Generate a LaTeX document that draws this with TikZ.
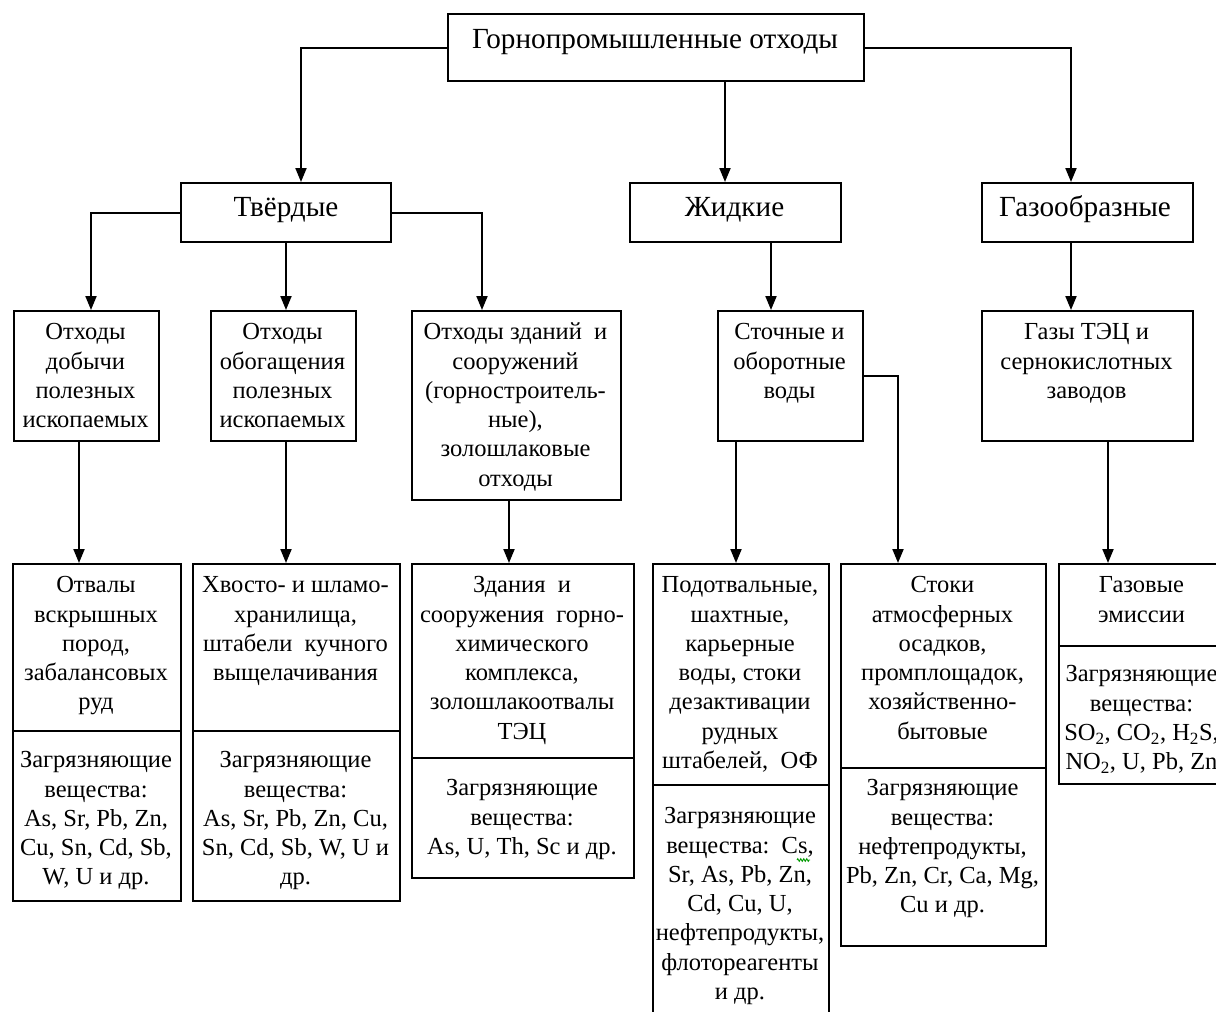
\documentclass[tikz,border=0pt]{standalone}
\usepackage{fontspec}
\setmainfont{Liberation Serif}
\usetikzlibrary{arrows.meta,decorations.pathmorphing}
\newcommand\bodyfont{\fontsize{24.5}{29.3}\selectfont}
\newcommand\headfont{\fontsize{29.2}{34}\selectfont}
% box with its top-left corner and bottom-right corner (pixel-like units, y downwards)
\newcommand\bx[5]{\node[cell, minimum width={(#4)-(#2)}, minimum height={(#5)-(#3)}] (#1) at (#2,#3) {};}
% centred text block: name, centre x, centre of the first line, text
\newcommand\tx[4]{\node[txt] (#1) at (#2,#3-15) {\strut#4};}
% one-line heading: name, centre x, centre y, text
\newcommand\hd[4]{\node[headtxt] (#1) at (#2,#3+6.5) {#4};}
\begin{document}
\begin{tikzpicture}[x=1pt,y=-1pt,
  cell/.style={draw, line width=2pt, inner sep=0pt, anchor=north west},
  txt/.style={align=center, inner sep=0pt, anchor=north, font=\bodyfont},
  headtxt/.style={inner sep=0pt, anchor=base, font=\headfont},
  arr/.style={line width=2pt, -{Triangle[length=14pt,width=11pt]}},
  squiggle/.style={draw=green!60!black, line width=0.9pt,
    decorate, decoration={zigzag, amplitude=1.3pt, segment length=3pt}}]
\useasboundingbox (0,0) rectangle (1216,1012);
\fill[white] (0,0) rectangle (1216,1012);
\clip (0,0) rectangle (1216,1012);

% ---- level 1 and 2
\bx{top}{447}{13}{863}{80}
\hd{topT}{655}{42}{Горнопромышленные отходы}
\bx{tv}{180}{182}{390}{241}
\hd{tvT}{286}{210}{Твёрдые}
\bx{zh}{629}{182}{840}{241}
\hd{zhT}{734.5}{210}{Жидкие}
\bx{gz}{981}{182}{1192}{241}
\hd{gzT}{1085}{210}{Газообразные}

% ---- level 3
\bx{a1}{13}{310}{158}{440}
\tx{a1T}{85.5}{334}{Отходы\\добычи\\полезных\\ископаемых}
\bx{a2}{210}{310}{355}{440}
\tx{a2T}{282.5}{334}{Отходы\\обогащения\\полезных\\ископаемых}
\bx{a3}{411}{310}{620}{499}
\tx{a3T}{515.5}{334}{Отходы зданий\ \ и\\сооружений\\(горностроитель-\\ные),\\золошлаковые\\отходы}
\bx{b1}{717}{310}{862}{440}
\tx{b1T}{789.5}{334}{Сточные и\\оборотные\\воды}
\bx{c1}{981}{310}{1192}{440}
\tx{c1T}{1086.5}{334}{Газы ТЭЦ и\\сернокислотных\\заводов}

% ---- level 4: sources (upper part) and pollutants (lower part)
\bx{d1}{12}{563}{180}{730}
\bx{d1p}{12}{730}{180}{900}
\tx{d1T}{96}{587}{Отвалы\\вскрышных\\пород,\\забалансовых\\руд}
\tx{d1P}{96}{762}{Загрязняющие\\вещества:\\As, Sr, Pb, Zn,\\Cu, Sn, Cd, Sb,\\W, U и др.}

\bx{d2}{192}{563}{399}{730}
\bx{d2p}{192}{730}{399}{900}
\tx{d2T}{295.5}{587}{Хвосто- и шламо-\\хранилища,\\штабели\ \ кучного\\выщелачивания}
\tx{d2P}{295.5}{762}{Загрязняющие\\вещества:\\As, Sr, Pb, Zn, Cu,\\Sn, Cd, Sb, W, U и\\др.}

\bx{d3}{411}{563}{633}{757}
\bx{d3p}{411}{757}{633}{877}
\tx{d3T}{522}{587}{Здания\ \ и\\сооружения\ \ горно-\\химического\\комплекса,\\золошлакоотвалы\\ТЭЦ}
\tx{d3P}{522}{790}{Загрязняющие\\вещества:\\As, U, Th, Sc и др.}

\bx{e1}{652}{563}{828}{784}
\bx{e1p}{652}{784}{828}{1030}
\tx{e1T}{740}{587}{Подотвальные,\\шахтные,\\карьерные\\воды, стоки\\дезактивации\\рудных\\штабелей,\ \ ОФ}
\tx{e1P}{740}{818}{Загрязняющие\\вещества:\ \ Cs,\\Sr, As, Pb, Zn,\\Cd, Cu, U,\\нефтепродукты,\\флотореагенты\\и др.}
% spell-check mark under "s" of Cs
\draw[squiggle] (797,860) -- (810,860);

\bx{e2}{840}{563}{1045}{767}
\bx{e2p}{840}{767}{1045}{945}
\tx{e2T}{942.5}{587}{Стоки\\атмосферных\\осадков,\\промплощадок,\\хозяйственно-\\бытовые}
\tx{e2P}{942.5}{790}{Загрязняющие\\вещества:\\нефтепродукты,\\Pb, Zn, Cr, Ca, Mg,\\Cu и др.}

\bx{f1}{1058}{563}{1225}{645}
\bx{f1p}{1058}{645}{1225}{783}
\tx{f1T}{1141.5}{587}{Газовые\\эмиссии}
\tx{f1P}{1141.5}{676}{Загрязняющие\\вещества:\\SO\textsubscript{2}, CO\textsubscript{2}, H\textsubscript{2}S,\\NO\textsubscript{2}, U, Pb, Zn}

% ---- connectors
\draw[arr] (top.west) -| ([xshift=15pt]tv.north);
\draw[arr] ([xshift=-10.5pt]zh.north |- top.south) -- ([xshift=-10.5pt]zh.north);
\draw[arr] (top.east) -| ([xshift=-16.5pt]gz.north);

\draw[arr] (tv.west) -| ([xshift=4.5pt]a1.north);
\draw[arr] (tv.south) -- ([xshift=2.5pt]a2.north);
\draw[arr] (tv.east) -| ([xshift=-34.5pt]a3.north);

\draw[arr] ([xshift=35.5pt]zh.south) -- ([xshift=-19.5pt]b1.north);
\draw[arr] ([xshift=-16.5pt]gz.south) -- ([xshift=-16.5pt]c1.north);

\draw[arr] ([xshift=-7.5pt]a1.south) -- ([xshift=-18pt]d1.north);
\draw[arr] ([xshift=2.5pt]a2.south) -- ([xshift=-10.5pt]d2.north);
\draw[arr] ([xshift=-7.5pt]a3.south) -- ([xshift=-14pt]d3.north);
\draw[arr] ([xshift=-54.5pt]b1.south) -- ([xshift=-5pt]e1.north);
\draw[arr] (b1.east) -| ([xshift=-45.5pt]e2.north);
\draw[arr] ([xshift=20.5pt]c1.south) -- ([xshift=-34.5pt]f1.north);
\end{tikzpicture}
\end{document}
